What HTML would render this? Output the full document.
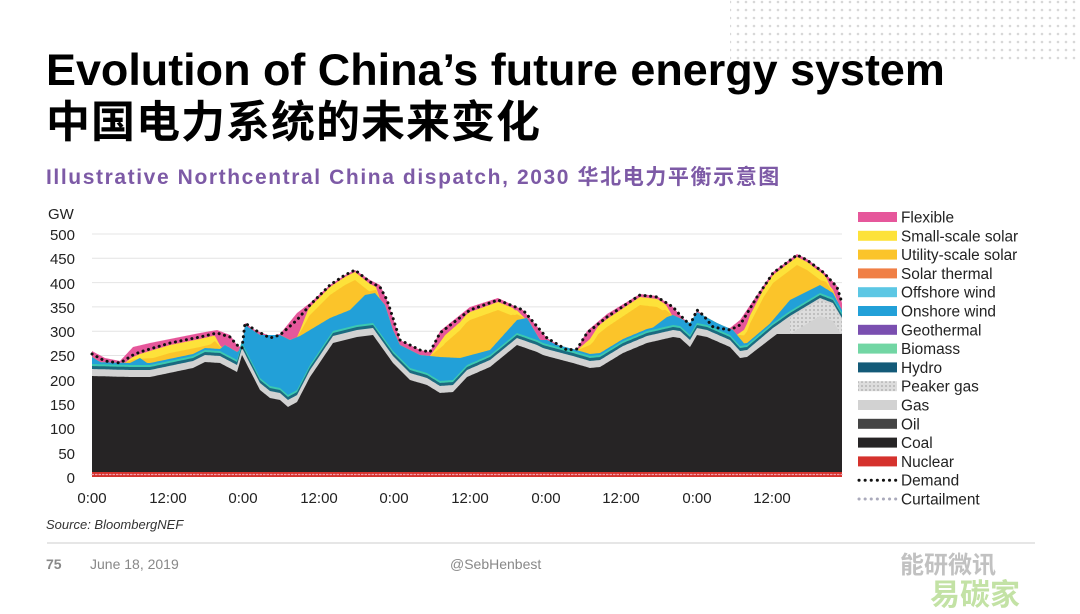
<!DOCTYPE html>
<html><head><meta charset="utf-8">
<style>
html,body{margin:0;padding:0;background:#fff;}
body{width:1080px;height:608px;position:relative;overflow:hidden;font-family:"Liberation Sans","Noto Sans CJK SC",sans-serif;}
.t{position:absolute;white-space:nowrap;}
</style></head><body>
<svg width="1080" height="608" style="position:absolute;left:0;top:0">
<defs>
<pattern id="dots" width="8" height="8" patternUnits="userSpaceOnUse"><circle cx="2" cy="2" r="1.3" fill="#d8d8d8"/></pattern>
<pattern id="pk" width="4" height="4" patternUnits="userSpaceOnUse"><rect width="4" height="4" fill="#ddd"/><circle cx="2" cy="2" r="0.9" fill="#aaa"/></pattern>
</defs>
<rect x="730" y="0" width="350" height="60" fill="url(#dots)"/>
<g id="grid" stroke="#e4e4e4" stroke-width="1"></g>
<g id="layers"></g>
<g font-size="15" fill="#222" font-family="Liberation Sans, sans-serif">
<text x="48" y="219">GW</text>
<g text-anchor="end">
<text x="75" y="240">500</text><text x="75" y="264">450</text><text x="75" y="289">400</text><text x="75" y="313">350</text><text x="75" y="337">300</text><text x="75" y="361">250</text><text x="75" y="386">200</text><text x="75" y="410">150</text><text x="75" y="434">100</text><text x="75" y="459">50</text><text x="75" y="483">0</text>
</g>
<g text-anchor="middle">
<text x="92" y="503">0:00</text><text x="168" y="503">12:00</text><text x="243" y="503">0:00</text><text x="319" y="503">12:00</text><text x="394" y="503">0:00</text><text x="470" y="503">12:00</text><text x="546" y="503">0:00</text><text x="621" y="503">12:00</text><text x="697" y="503">0:00</text><text x="772" y="503">12:00</text>
</g>
</g>
<g id="legend" font-size="15.4" fill="#222"></g>
<line x1="47" y1="543" x2="1035" y2="543" stroke="#ccc" stroke-width="1"/>
</svg>
<div class="t" style="left:46px;top:44px;font-size:44.9px;font-weight:bold;color:#000">Evolution of China’s future energy system</div>
<div class="t" style="left:46px;top:92px;font-size:44px;font-weight:bold;color:#000;font-family:'Noto Sans CJK SC',sans-serif;line-height:52px;letter-spacing:1px">中国电力系统的未来变化</div>
<div class="t" style="left:46px;top:161px;font-size:21px;font-weight:bold;color:#7d5aa6;letter-spacing:1.6px">Illustrative Northcentral China dispatch, 2030 华北电力平衡示意图</div>
<div class="t" style="left:46px;top:517px;font-size:13px;font-style:italic;color:#333">Source: BloombergNEF</div>
<div class="t" style="left:46px;top:556px;font-size:14px;color:#888;font-weight:bold">75</div>
<div class="t" style="left:90px;top:556px;font-size:14px;color:#888">June 18, 2019</div>
<div class="t" style="left:450px;top:556px;font-size:14px;color:#888">@SebHenbest</div>
<div class="t" style="left:900px;top:545px;font-size:24px;font-weight:bold;color:#999;opacity:.6">能研微讯</div>
<div class="t" style="left:930px;top:570px;font-size:30px;font-weight:bold;color:#9ccf6a;opacity:.6">易碳家</div>
<script>
const X0=92,X1=842,Y0=477;
function mk(pts){return x=>{if(x<=pts[0][0])return pts[0][1];for(let i=1;i<pts.length;i++){if(x<=pts[i][0]){const a=pts[i-1],b=pts[i];return a[1]+(b[1]-a[1])*(x-a[0])/(b[0]-a[0]);}}return pts[pts.length-1][1];};}
const C=mk([[92,376],[130,377],[150,377],[193,368],[205,362],[220,363],[237,372],[242,355],[260,390],[270,398],[280,400],[288,407],[297,402],[310,377],[333,343],[357,337],[373,335],[393,363],[410,380],[427,385],[440,393],[453,392],[467,377],[490,367],[517,345],[537,352],[543,355],[550,357],[573,363],[590,368],[600,367],[623,353],[647,343],[673,337],[680,338],[690,347],[697,335],[707,337],[730,347],[740,358],[747,357],[773,337],[777,334],[842,334]]);
const G5=mk([[92,999],[738,999],[740,352],[747,350],[773,328],[790,316],[820,298],[833,303],[842,318]]);
const D=mk([[92,354],[105,361],[120,363],[133,355],[140,352],[170,343],[200,337],[217,333],[230,337],[237,345],[242,348],[245,323],[255,330],[270,338],[280,335],[297,320],[310,305],[330,285],[345,275],[355,270],[370,282],[380,287],[387,300],[393,318],[400,340],[420,350],[430,352],[440,333],[470,310],[498,300],[523,310],[547,338],[567,350],[577,349],[587,333],[607,317],[640,295],[657,297],[673,307],[680,315],[690,325],[697,310],[703,315],[713,327],[730,330],[740,325],[757,297],[773,273],[797,255],[807,260],[823,272],[837,287],[842,303]]);
const B=mk([[92,357],[105,365],[130,363],[140,358],[150,365],[180,364],[210,357],[225,345],[237,352],[242,348],[245,325],[260,335],[280,335],[290,340],[300,336],[330,318],[350,310],[365,295],[375,293],[385,305],[393,330],[400,345],[420,355],[440,357],[460,358],[490,350],[517,320],[527,318],[540,340],[547,340],[567,350],[580,352],[600,360],[623,350],[667,317],[673,315],[690,323],[697,312],[717,323],[733,330],[747,347],[767,327],[790,300],[820,285],[833,293],[842,310]]);
const T=mk([[92,0],[125,0],[140,12],[170,30],[200,30],[212,18],[222,0],[297,0],[310,25],[330,35],[350,40],[360,36],[370,18],[380,0],[430,0],[445,22],[470,45],[498,48],[515,12],[525,0],[577,0],[590,15],[607,40],[640,45],[660,25],[672,0],[737,0],[750,25],[773,50],[797,50],[815,30],[830,5],[838,0],[842,0]]);
const P=mk([[92,351],[105,358],[120,361],[133,347],[150,343],[200,333],[217,330],[230,335],[237,345],[242,348],[245,323],[255,330],[270,336],[280,334],[297,313],[310,303],[330,285],[345,275],[355,270],[370,280],[380,285],[387,300],[393,318],[400,340],[420,350],[430,352],[440,331],[470,307],[498,298],[523,310],[547,338],[567,350],[577,349],[587,331],[607,314],[640,294],[657,296],[673,307],[680,315],[690,325],[697,310],[703,315],[713,327],[730,328],[740,320],[757,295],[773,272],[797,254],[807,259],[823,271],[837,286],[842,303]]);
const xs=[];for(let x=X0;x<=X1;x++)xs.push(x);
const Cf=x=>C(x);
const Gf=x=>Math.min(C(x)-7,G5(x));
const Tl=x=>Gf(x)-5;
const Bf=x=>Math.min(B(x),Tl(x)-2);
const Yf=x=>Math.max(D(x)+2,Bf(x)-T(x));
const Of=x=>Math.min(Bf(x),Yf(x)+Math.min(8,T(x)*0.4));
const Pf=x=>Math.min(P(x),Yf(x));
const ns="http://www.w3.org/2000/svg";
function area(f,fill,par){const p=document.createElementNS(ns,"path");let d="M"+X0+","+Y0;xs.forEach(x=>d+="L"+x+","+f(x).toFixed(1));d+="L"+X1+","+Y0+"Z";p.setAttribute("d",d);p.setAttribute("fill",fill);par.appendChild(p);}
function line(f,st,w,da,par){const p=document.createElementNS(ns,"path");let d="";xs.forEach((x,i)=>d+=(i?"L":"M")+x+","+f(x).toFixed(1));p.setAttribute("d",d);p.setAttribute("fill","none");p.setAttribute("stroke",st);p.setAttribute("stroke-width",w);if(da)p.setAttribute("stroke-dasharray",da);p.setAttribute("stroke-linecap","round");par.appendChild(p);}
const g=document.getElementById("grid");
for(let v=50;v<=500;v+=50){const y=Y0-v*0.486;const l=document.createElementNS(ns,"line");l.setAttribute("x1",X0);l.setAttribute("x2",X1);l.setAttribute("y1",y);l.setAttribute("y2",y);g.appendChild(l);}
const L=document.getElementById("layers");
area(Pf,"#e6579b",L);
area(Yf,"#fde23a",L);
area(Of,"#fbc42a",L);
area(Bf,"#22a0d8",L);
area(x=>Tl(x),"#3cc9b0",L);
area(x=>Tl(x)+2,"#1b6a80",L);
area(Gf,"#d2d2d2",L);
(function(){const p=document.createElementNS(ns,"path");let d="";const xr=xs.filter(x=>x>=790);xr.forEach((x,i)=>d+=(i?"L":"M")+x+","+(Gf(x)+2));xr.slice().reverse().forEach(x=>d+="L"+x+","+Math.min(C(x),Gf(x)+18));d+="Z";p.setAttribute("d",d);p.setAttribute("fill","url(#pk)");L.appendChild(p);})();
area(Cf,"#262425",L);
const r=document.createElementNS(ns,"rect");r.setAttribute("x",X0);r.setAttribute("y",472);r.setAttribute("width",X1-X0);r.setAttribute("height",5);r.setAttribute("fill","#d5322d");L.appendChild(r);
line(x=>474.5,"#f1a0b0",1.2,"1.5 2",L);
line(D,"#111",3,"0.1 5.5",L);
const lg=document.getElementById("legend");
const items=[["Flexible","#e6579b"],["Small-scale solar","#fde23a"],["Utility-scale solar","#fbc42a"],["Solar thermal","#f07f45"],["Offshore wind","#5cc7e4"],["Onshore wind","#22a0d8"],["Geothermal","#7a4fb0"],["Biomass","#72d6a4"],["Hydro","#135a78"],["Peaker gas","url(#pk)"],["Gas","#d2d2d2"],["Oil","#444"],["Coal","#262425"],["Nuclear","#d5322d"],["Demand","d"],["Curtailment","c"]];
items.forEach((it,i)=>{const yc=217+i*18.8;
 if(it[1]=="d"||it[1]=="c"){const l=document.createElementNS(ns,"line");l.setAttribute("x1",859);l.setAttribute("x2",896);l.setAttribute("y1",yc);l.setAttribute("y2",yc);l.setAttribute("stroke",it[1]=="d"?"#111":"#aab");l.setAttribute("stroke-width",3);l.setAttribute("stroke-dasharray","0.1 6");l.setAttribute("stroke-linecap","round");lg.appendChild(l);}
 else{const s=document.createElementNS(ns,"rect");s.setAttribute("x",858);s.setAttribute("y",yc-5);s.setAttribute("width",39);s.setAttribute("height",10);s.setAttribute("fill",it[1]);lg.appendChild(s);}
 const t=document.createElementNS(ns,"text");t.setAttribute("x",901);t.setAttribute("y",yc+5.5);t.textContent=it[0];lg.appendChild(t);});
</script>
</body></html>
